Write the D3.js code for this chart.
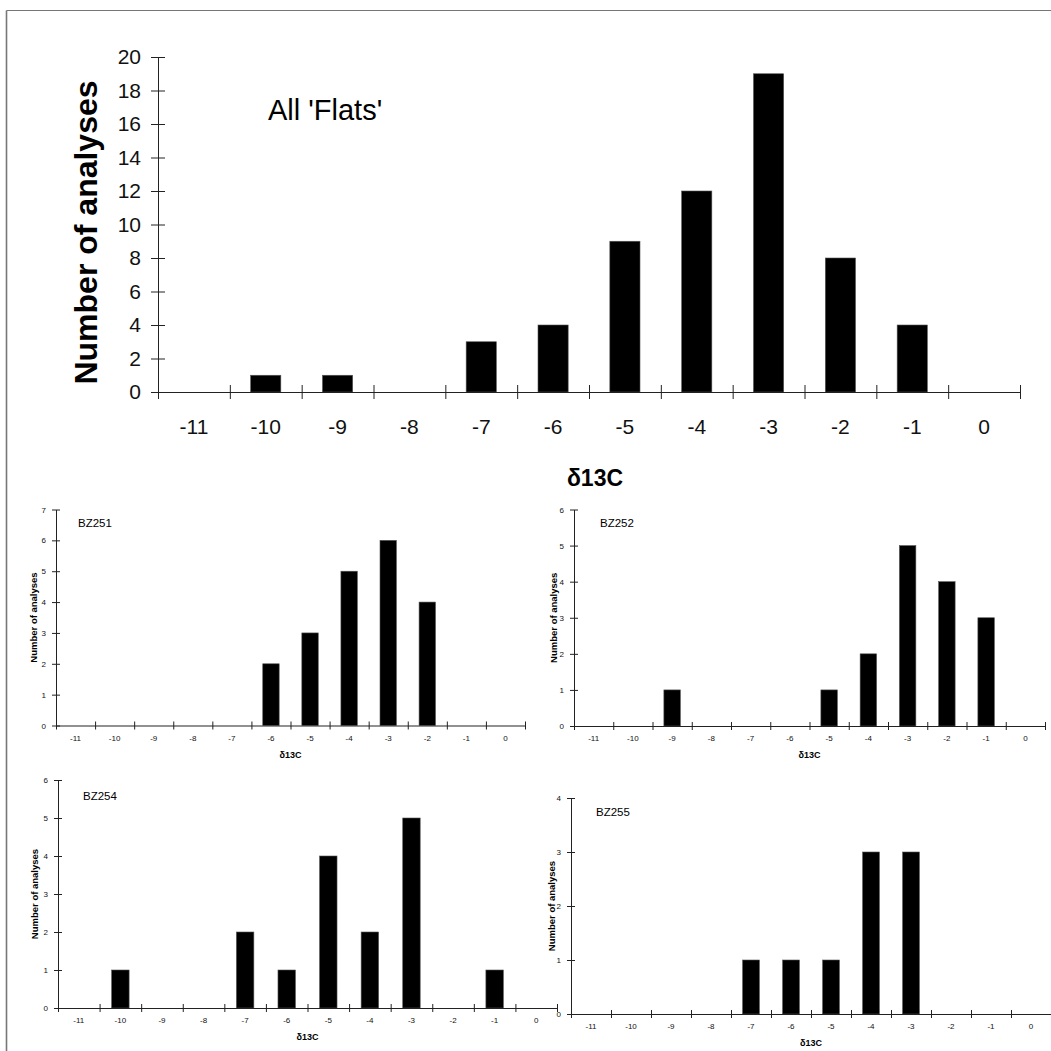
<!DOCTYPE html>
<html><head><meta charset="utf-8">
<script src="https://cdn.jsdelivr.net/npm/d3@7"></script>
<style>
html,body{margin:0;padding:0;background:#fff;}
svg{display:block;font-family:"Liberation Sans",Arial,sans-serif;}
</style></head>
<body>
<svg id="c" width="1051" height="1051"></svg>
<script>
// ---- data ----
const categories = [-11,-10,-9,-8,-7,-6,-5,-4,-3,-2,-1,0];
const allFlats = [0,1,1,0,3,4,9,12,19,8,4,0];
const bz251 = [0,0,0,0,0,2,3,5,6,4,0,0];
const bz252 = [0,0,1,0,0,0,1,2,5,4,3,0];
const bz254 = [0,1,0,0,2,1,4,2,5,0,1,0];
const bz255 = [0,0,0,0,1,1,1,3,3,0,0,0];
const mainTicks = [0,2,4,6,8,10,12,14,16,18,20];
const panelNames = ["All 'Flats'","BZ251","BZ252","BZ254","BZ255"];
const yTitle = "Number of analyses";
const xTitle = "\u03B413C";

const svg = d3.select("#c");

// page frame
svg.append("line").attr("x1",6.5).attr("x2",1051).attr("y1",10.5).attr("y2",10.5).attr("stroke","#777").attr("stroke-width",1.2);
svg.append("line").attr("x1",6.5).attr("x2",6.5).attr("y1",10.5).attr("y2",1051).attr("stroke","#777").attr("stroke-width",1.6);

function panel(o){
  const g = svg.append("g");
  const x = d3.scaleBand().domain(categories).range([o.x0,o.x1]).paddingInner(0.58).paddingOuter(0.29);
  const xb = d3.scaleLinear().domain([-11.5,0.5]).range([o.x0,o.x1]);
  const y = d3.scaleLinear().domain([0,o.ymax]).range([o.y0,o.yTop]);
  // bars
  g.selectAll("rect.bar").data(o.values.map((v,i)=>({c:categories[i],v})).filter(d=>d.v>0))
    .enter().append("rect").attr("class","bar")
    .attr("x",d=>x(d.c)).attr("width",x.bandwidth())
    .attr("y",d=>y(d.v)).attr("height",d=>y(0)-y(d.v))
    .attr("fill","#000").attr("stroke","#555").attr("stroke-width",0.6);
  // x axis with boundary ticks
  const xa = d3.axisBottom(xb).tickValues(d3.range(-11.5,0.51,1)).tickFormat("").tickSizeInner(o.tk).tickSizeOuter(0);
  const gx = g.append("g").attr("transform",`translate(0,${o.y0})`).call(xa);
  gx.select(".domain").attr("stroke","#222").attr("stroke-width",o.lw);
  gx.selectAll(".tick line").attr("y1",-o.tk).attr("y2",o.tk).attr("stroke","#222").attr("stroke-width",o.lw);
  // x labels at band centers
  g.selectAll("text.xl").data(categories).enter().append("text")
    .attr("x",d=>x(d)+x.bandwidth()/2).attr("y",o.y0+o.xlOff)
    .attr("text-anchor","middle").attr("font-size",o.fs).attr("fill","#111").text(d=>d);
  // y axis
  const ya = d3.axisLeft(y).tickValues(o.yticks).tickFormat(d3.format("d")).tickSizeInner(o.tk).tickSizeOuter(0).tickPadding(o.ypad);
  const gy = g.append("g").attr("transform",`translate(${o.x0},0)`).call(ya);
  gy.select(".domain").attr("stroke","#222").attr("stroke-width",o.lw);
  gy.selectAll(".tick line").attr("x1",-o.tk).attr("x2",o.tk).attr("stroke","#222").attr("stroke-width",o.lw);
  gy.selectAll(".tick text").attr("font-size",o.fs).attr("fill","#111").attr("font-family","'Liberation Sans',Arial,sans-serif");
  // titles
  const ytY = (o.y0+o.yTop)/2 + (o.ytDy||0);
  g.append("text").attr("transform",`translate(${o.ytX},${ytY}) rotate(-90)`)
    .attr("text-anchor","middle").attr("font-weight","bold").attr("font-size",o.ytFs).text(yTitle);
  g.append("text").attr("x",o.xtX!==undefined?o.xtX:(o.x0+o.x1)/2).attr("y",o.y0+o.xtOff)
    .attr("text-anchor","middle").attr("font-weight","bold").attr("font-size",o.xtFs).text(xTitle);
  g.append("text").attr("x",o.nx).attr("y",o.ny).attr("font-size",o.nFs).text(o.name);
}

panel({name:panelNames[0],values:allFlats,x0:158,x1:1020,y0:392,yTop:57,ymax:20,yticks:mainTicks,
  tk:7,lw:1,fs:21,xlOff:42,ypad:10,ytX:97,ytDy:8,ytFs:32,xtOff:94,xtFs:23,xtX:595,nx:268,ny:120,nFs:29});
const smallTicks = m => d3.range(0,m+1);
panel({name:panelNames[1],values:bz251,x0:56,x1:525,y0:725.5,yTop:509.5,ymax:7,yticks:smallTicks(7),
  tk:4,lw:1,fs:8,xlOff:15,ypad:6,ytX:37,ytFs:9.5,xtOff:32,xtFs:9,nx:78,ny:527,nFs:11.5});
panel({name:panelNames[2],values:bz252,x0:574,x1:1045,y0:726,yTop:509.5,ymax:6,yticks:smallTicks(6),
  tk:4,lw:1,fs:8,xlOff:15,ypad:6,ytX:557,ytFs:9.5,xtOff:32,xtFs:9,nx:600,ny:527,nFs:11.5});
panel({name:panelNames[3],values:bz254,x0:58,x1:557,y0:1008,yTop:780,ymax:6,yticks:smallTicks(6),
  tk:4,lw:1,fs:8,xlOff:15,ypad:6,ytX:38,ytFs:9.5,xtOff:32,xtFs:9,nx:83,ny:800,nFs:11.5});
panel({name:panelNames[4],values:bz255,x0:571,x1:1051,y0:1014,yTop:798,ymax:4,yticks:smallTicks(4),
  tk:4,lw:1,fs:8,xlOff:15,ypad:6,ytX:555,ytFs:9.5,xtOff:32,xtFs:9,nx:596,ny:816,nFs:11.5});
</script>
</body></html>
